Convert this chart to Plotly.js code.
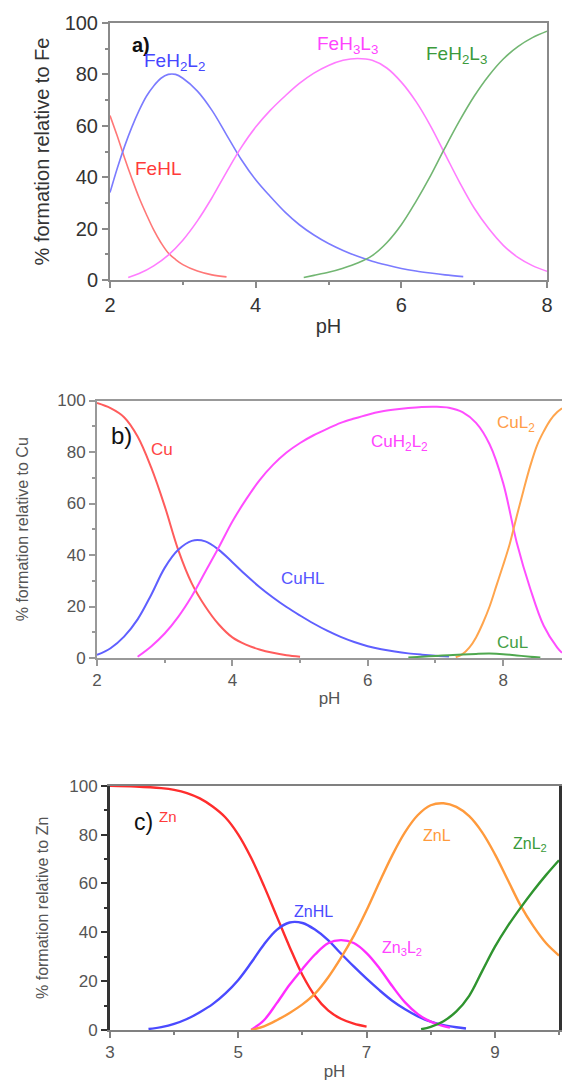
<!DOCTYPE html>
<html>
<head>
<meta charset="utf-8">
<script src="https://cdn.plot.ly/plotly-3.0.1.min.js"></script>
<style>html,body{margin:0;padding:0;background:#fff;}#chart{width:562px;height:1081px;}</style>
</head>
<body>
<div id="chart"></div>
<script>
// ---------- Panel a (Fe) ----------
const feHL_x = [2.0,2.1,2.2,2.3,2.4,2.5,2.6,2.7,2.8,2.9,3.0,3.2,3.4,3.6];
const feHL_y = [64,56,47.5,39.5,32,25.5,19.5,14.5,10.5,8,6,3.5,2,1.2];
const feH2L2_x = [2.0,2.1,2.2,2.3,2.4,2.5,2.6,2.7,2.8,2.9,3.0,3.2,3.4,3.6,3.8,4.0,4.2,4.4,4.6,4.8,5.0,5.2,5.4,5.6,5.8,6.0,6.2,6.4,6.6,6.85];
const feH2L2_y = [34,43.5,52,59.5,66,71.5,75.5,78.5,80,80,78.5,73.5,66,56.5,47,39,32.5,26.5,21.5,17.5,14.2,11.5,9.2,7.3,5.8,4.5,3.5,2.7,2,1.3];
const feH3L3_x = [2.25,2.4,2.6,2.8,3.0,3.2,3.4,3.6,3.8,4.0,4.2,4.4,4.6,4.8,5.0,5.2,5.4,5.6,5.8,6.0,6.2,6.4,6.6,6.8,7.0,7.2,7.4,7.6,7.8,8.0];
const feH3L3_y = [1,2.5,5.5,9.7,15.5,23,32,42,51.5,59.5,66,71.5,76.5,80.5,83.5,85.5,86.2,85.5,82.5,77,69.5,60,49,38,28,20,13.5,8.8,5.6,3.4];
const feH2L3_x = [4.66,4.8,5.0,5.2,5.4,5.6,5.8,6.0,6.2,6.4,6.6,6.8,7.0,7.2,7.4,7.6,7.8,8.0];
const feH2L3_y = [1,1.8,3,4.6,6.6,9.5,14.5,21.5,30.5,40.5,51.5,62,71.5,79.5,86,90.8,94.3,96.8];

// ---------- Panel b (Cu) ----------
const cu_x = [2.0,2.2,2.4,2.6,2.8,3.0,3.2,3.4,3.6,3.8,4.0,4.2,4.4,4.6,4.8,5.0];
const cu_y = [99,97,93.5,86,74,59,42,29,20,13,8,5.2,3.3,2,1.1,0.5];
const cuHL_x = [2.0,2.2,2.4,2.6,2.8,3.0,3.2,3.4,3.6,3.8,4.0,4.2,4.4,4.6,4.8,5.0,5.2,5.4,5.6,5.8,6.0,6.2,6.4,6.6,6.8,7.0,7.2];
const cuHL_y = [1.2,3.8,8.3,15,24.5,35,42,45.5,45.3,42,37.2,32.2,27.6,23.5,19.8,16.5,13.4,10.6,8.2,6.2,4.6,3.4,2.5,1.8,1.3,0.9,0.6];
const cuH2L2_x = [2.6,2.8,3.0,3.2,3.4,3.6,3.8,4.0,4.2,4.4,4.6,4.8,5.0,5.2,5.4,5.6,5.8,6.0,6.2,6.4,6.6,6.8,7.0,7.2,7.4,7.6,7.8,8.0,8.2,8.4,8.6,8.8,8.87];
const cuH2L2_y = [0.5,4.5,9.5,16,24,33.5,43,53,61.5,69,75,79.8,83.5,86.5,89,91.3,93,94.5,95.7,96.5,97.1,97.5,97.6,97.2,95.5,91.3,83,68,45,27,12.5,4,2];
const cuL2_x = [7.3,7.4,7.5,7.6,7.7,7.8,7.9,8.0,8.1,8.2,8.3,8.4,8.5,8.6,8.7,8.8,8.87];
const cuL2_y = [0.3,1.5,4,8,13.5,20,28,36,44.5,55,65,74.5,82.5,88,92.5,95.5,97];
const cuL_x = [6.6,6.8,7.0,7.2,7.4,7.6,7.8,8.0,8.2,8.4,8.55];
const cuL_y = [0.2,0.5,0.8,1.1,1.4,1.6,1.7,1.5,1.0,0.5,0.2];

// ---------- Panel c (Zn) ----------
const zn_x = [3.0,3.4,3.8,4.0,4.2,4.4,4.6,4.8,5.0,5.2,5.4,5.6,5.8,6.0,6.2,6.4,6.6,6.8,7.0];
const zn_y = [100,99.7,99,98.3,97,94.8,91.5,87,80,70.5,59,46.5,34,22.5,13.8,8,4.6,2.6,1.4];
const znHL_x = [3.6,3.8,4.0,4.2,4.4,4.6,4.8,5.0,5.2,5.4,5.6,5.8,6.0,6.2,6.4,6.6,6.8,7.0,7.2,7.4,7.6,7.8,8.0,8.2,8.4,8.55];
const znHL_y = [0.4,1.2,2.5,4.5,7.3,10.6,15,20.5,27.5,35,41,44,43.8,41,36.8,31.3,26,21,16.3,12,8.5,5.6,3.4,2,1.1,0.6];
const zn3L2_x = [5.2,5.4,5.6,5.8,6.0,6.2,6.4,6.6,6.8,7.0,7.2,7.4,7.6,7.8,8.0,8.2,8.3];
const zn3L2_y = [0,4,11,18.5,25,31,35.5,36.8,35.6,31.5,25.3,18,11.3,6.5,3.4,1.6,1];
const znL_x = [5.2,5.4,5.6,5.8,6.0,6.2,6.4,6.6,6.8,7.0,7.2,7.4,7.6,7.8,8.0,8.2,8.4,8.6,8.8,9.0,9.2,9.4,9.6,9.8,10.0];
const znL_y = [0,1.5,4,7,10.5,15,21.5,29.5,38.5,49,60.5,71.5,81,88,92,92.8,91.3,87.5,81,72,61.5,51,42.5,35.5,30.5];
const znL2_x = [7.85,8.0,8.2,8.4,8.6,8.8,9.0,9.2,9.4,9.6,9.8,10.0];
const znL2_y = [0.3,1.3,3.6,7.6,14,24,34,42.5,50,57,63.5,69.5];

// tick values / labels
const tickA_x = [2,4,6,8];
const tickB_x = [2,4,6,8];
const tickC_x = [3,5,7,9];
const tickY = [0,20,40,60,80,100];

const W = 562, H = 1081;
const px = v => v / W;
const py = v => 1 - v / H;
const FONT = 'Liberation Sans, Arial, sans-serif';

function line(x, y, color, width, xa, ya) {
  return {x: x, y: y, type: 'scatter', mode: 'lines', xaxis: xa, yaxis: ya,
    line: {color: color, width: width, shape: 'spline', smoothing: 1}, hoverinfo: 'skip', showlegend: false};
}

const traces = [
  line(feHL_x, feHL_y, '#ff7777', 1.6, 'x', 'y'),
  line(feH2L2_x, feH2L2_y, '#7b7bff', 1.6, 'x', 'y'),
  line(feH3L3_x, feH3L3_y, '#ff7cff', 1.6, 'x', 'y'),
  line(feH2L3_x, feH2L3_y, '#72b672', 1.6, 'x', 'y'),

  line(cu_x, cu_y, '#ff5c5c', 2, 'x2', 'y2'),
  line(cuHL_x, cuHL_y, '#5f5fff', 2, 'x2', 'y2'),
  line(cuH2L2_x, cuH2L2_y, '#ff4dff', 2, 'x2', 'y2'),
  line(cuL2_x, cuL2_y, '#ffa54d', 2, 'x2', 'y2'),
  line(cuL_x, cuL_y, '#4fa84f', 2, 'x2', 'y2'),

  line(zn_x, zn_y, '#ff2d2d', 2.4, 'x3', 'y3'),
  line(znHL_x, znHL_y, '#4a4aff', 2.4, 'x3', 'y3'),
  line(zn3L2_x, zn3L2_y, '#ff2dff', 2.4, 'x3', 'y3'),
  line(znL_x, znL_y, '#ff9a3c', 2.4, 'x3', 'y3'),
  line(znL2_x, znL2_y, '#2f942f', 2.4, 'x3', 'y3')
];

function xax(domain, range, tickvals, anchor, lc, fs, tc, standoff) {
  return {domain: domain, range: range, anchor: anchor, tickmode: 'array', tickvals: tickvals,
    ticktext: tickvals.map(String), showgrid: false, zeroline: false, showline: true, mirror: true,
    linecolor: lc, linewidth: 2, ticks: 'outside', ticklen: 6, tickwidth: 2, tickcolor: lc,
    minor: {ticks: 'outside', ticklen: 3, tickwidth: 2, tickcolor: lc, dtick: 1},
    tickfont: {family: FONT, size: fs, color: tc},
    title: {text: 'pH', font: {family: FONT, size: fs, color: tc}, standoff: standoff}};
}
function yax(domain, anchor, lc, lw, fs, tc, title, tfs, standoff) {
  return {domain: domain, range: [0, 100], anchor: anchor, tickmode: 'array', tickvals: tickY,
    ticktext: tickY.map(String), showgrid: false, zeroline: false, showline: true, mirror: true,
    linecolor: lc, linewidth: lw, ticks: 'outside', ticklen: 6, tickwidth: 2, tickcolor: lc,
    minor: {ticks: 'outside', ticklen: 3, tickwidth: 2, tickcolor: lc, dtick: 10},
    tickfont: {family: FONT, size: fs, color: tc},
    title: {text: title, font: {family: FONT, size: tfs, color: tc}, standoff: standoff}};
}

function ann(x, y, text, color, size) {
  return {x: px(x), y: py(y), xref: 'paper', yref: 'paper', text: text, showarrow: false,
    xanchor: 'center', yanchor: 'middle', font: {family: FONT, size: size, color: color}};
}

const layout = {
  width: W, height: H, margin: {l: 0, r: 0, t: 0, b: 0},
  paper_bgcolor: '#ffffff', plot_bgcolor: '#ffffff', showlegend: false,
  xaxis: xax([px(110), px(547)], [2, 8], tickA_x, 'y', '#8a8a8a', 20, '#333333', 4),
  yaxis: yax([py(280), py(23)], 'x', '#8a8a8a', 2, 20, '#333333', '% formation relative to Fe', 20, 10),
  xaxis2: xax([px(97), 1], [2, 8.87], tickB_x, 'y2', '#999999', 17, '#555555', 3),
  yaxis2: yax([py(658), py(400.5)], 'x2', '#999999', 2, 17, '#555555', '% formation relative to Cu', 16, 25),
  xaxis3: xax([px(110), px(559)], [3, 10], tickC_x, 'y3', '#808080', 17, '#555555', 4),
  yaxis3: yax([py(1030), py(785.7)], 'x3', '#333333', 3, 17, '#555555', '% formation relative to Zn', 16, 17),
  annotations: [
    ann(141, 45, '<b>a)</b>', '#111111', 20),
    ann(174, 62, 'FeH<sub>2</sub>L<sub>2</sub>', '#4646ff', 19),
    ann(158, 168, 'FeHL', '#ff3a3a', 19),
    ann(347, 45, 'FeH<sub>3</sub>L<sub>3</sub>', '#ff44ff', 19),
    ann(456, 55, 'FeH<sub>2</sub>L<sub>3</sub>', '#3c9a3c', 19),

    ann(121, 435, 'b)', '#111111', 24),
    ann(162, 449, 'Cu', '#ff4444', 17),
    ann(302, 578, 'CuHL', '#5555ff', 17),
    ann(399, 443, 'CuH<sub>2</sub>L<sub>2</sub>', '#ff44ff', 17),
    ann(516, 424, 'CuL<sub>2</sub>', '#ff9d47', 17),
    ann(512, 642, 'CuL', '#45a045', 17),

    ann(143, 822, 'c)', '#111111', 23),
    ann(168, 816, 'Zn', '#ff3a3a', 15),
    ann(313, 911, 'ZnHL', '#4a4aff', 16),
    ann(402, 948, 'Zn<sub>3</sub>L<sub>2</sub>', '#ff44ff', 16),
    ann(437, 835, 'ZnL', '#ff9a3c', 16),
    ann(530, 844, 'ZnL<sub>2</sub>', '#3a9a3a', 16)
  ]
};

Plotly.newPlot('chart', traces, layout, {staticPlot: true, displayModeBar: false});
</script>
</body>
</html>
